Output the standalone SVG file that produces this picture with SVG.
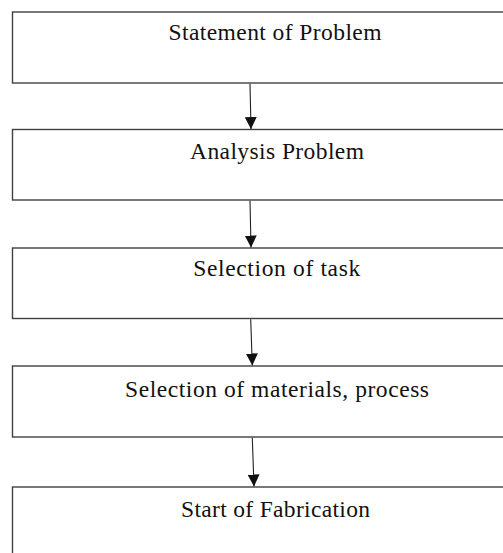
<svg xmlns="http://www.w3.org/2000/svg" width="503" height="553" viewBox="0 0 503 553">
<style>
.box{fill:#fff;stroke:#404040;stroke-width:1.4}
.lbl{font-family:"Liberation Serif","Times New Roman",serif;font-size:23.5px;fill:#111;text-anchor:middle}
.conn{stroke:#222;stroke-width:1.1;fill:none}
</style>
<defs>
<marker id="ah" markerUnits="userSpaceOnUse" markerWidth="12" markerHeight="12" viewBox="0 0 12 12" refX="12" refY="6" orient="auto">
<path d="M0,0 L12,6 L0,12 z" fill="#111"/>
</marker>
</defs>
<rect width="503" height="553" fill="#fff"/>
<g id="n1"><rect class="box" x="12.5" y="12" width="540" height="71"/><text class="lbl" x="275" y="39.5" textLength="213" lengthAdjust="spacing">Statement of Problem</text></g>
<g id="n2"><rect class="box" x="12.5" y="129.5" width="540" height="70.5"/><text class="lbl" x="277" y="159" textLength="174" lengthAdjust="spacing">Analysis Problem</text></g>
<g id="n3"><rect class="box" x="12.5" y="248" width="540" height="70.5"/><text class="lbl" x="276.7" y="275.5" textLength="167" lengthAdjust="spacing">Selection of task</text></g>
<g id="n4"><rect class="box" x="12.5" y="366" width="540" height="71"/><text class="lbl" x="277" y="396.5" textLength="304" lengthAdjust="spacing">Selection of materials, process</text></g>
<g id="n5"><rect class="box" x="12.5" y="487" width="540" height="100"/><text class="lbl" x="275.5" y="516.5" textLength="189" lengthAdjust="spacing">Start of Fabrication</text></g>
<g id="connectors">
<line class="conn" x1="250" y1="83.7" x2="251" y2="129" marker-end="url(#ah)"/>
<line class="conn" x1="250" y1="200.7" x2="251" y2="247.5" marker-end="url(#ah)"/>
<line class="conn" x1="250.7" y1="319.2" x2="252.3" y2="365.5" marker-end="url(#ah)"/>
<line class="conn" x1="252.3" y1="437.7" x2="254" y2="486.5" marker-end="url(#ah)"/>
</g>
</svg>
